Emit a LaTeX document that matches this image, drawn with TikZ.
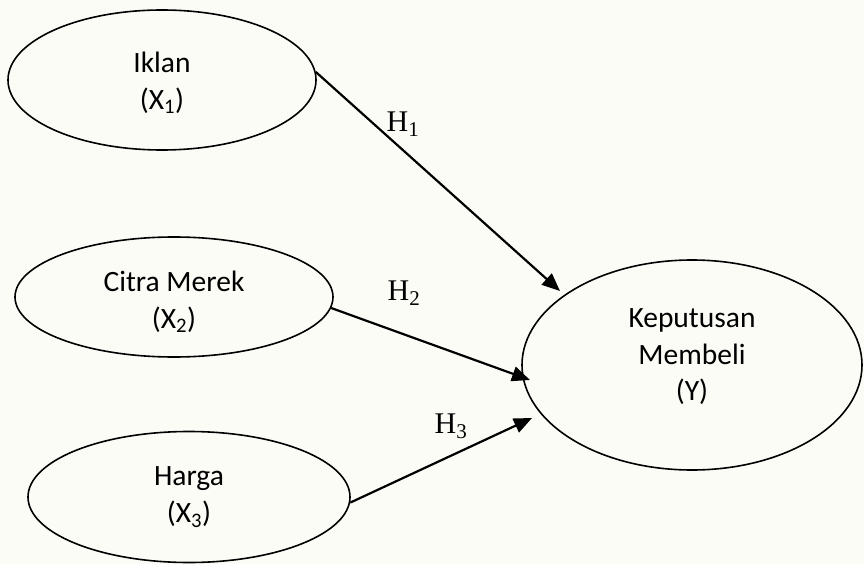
\documentclass[tikz,border=0pt]{standalone}
\usepackage{fontspec}
\setmainfont{Carlito}
\newfontfamily\hfont{Liberation Serif}
\usetikzlibrary{shapes.geometric,arrows.meta}
\definecolor{bgcol}{RGB}{252,252,247}
\tikzset{
  var/.style={ellipse,draw=black,line width=1.6pt,inner sep=0pt,align=center,
    font=\fontsize{29.5}{39}\selectfont},
  vartext/.style={inner sep=0pt,align=center,font=\fontsize{29.5}{36.5}\selectfont},
  link/.style={line width=2.2pt,-{Triangle[length=18pt,width=15pt]}},
  hyp/.style={font=\hfont\fontsize{30}{30}\selectfont,inner sep=0pt}
}
\begin{document}
\begin{tikzpicture}[x=1pt,y=-1pt]
\fill[bgcol] (0,0) rectangle (864,564);
\useasboundingbox (0,0) rectangle (864,564);
\node[var,minimum width=308pt,minimum height=140pt] (x1) at (162,80) {};
\node[vartext] (x1t) at (162,83) {Iklan\\(X\textsubscript{1})};
\node[var,minimum width=318pt,minimum height=120pt] (x2) at (174,297) {};
\node[vartext] (x2t) at (174,302) {Citra Merek\\(X\textsubscript{2})};
\node[var,minimum width=322pt,minimum height=131pt] (x3) at (189,497) {};
\node[vartext] (x3t) at (189,497) {Harga\\(X\textsubscript{3})};
\node[var,minimum width=340pt,minimum height=210pt] (y) at (692,365) {};
\node[vartext] (yt) at (692,357) {Keputusan\\Membeli\\(Y)};
\coordinate (t1) at (560,291);
\coordinate (t2) at (530,380);
\coordinate (t3) at (532,418);
\draw[link] (x1.3) -- (t1);
\draw[link] (x2.-4) -- (t2);
\draw[link] (x3.-2) -- (t3);
\node[hyp] (h1) at (403,124) {H\textsubscript{1}};
\node[hyp] (h2) at (404,293) {H\textsubscript{2}};
\node[hyp] (h3) at (451,426) {H\textsubscript{3}};
\end{tikzpicture}
\end{document}
